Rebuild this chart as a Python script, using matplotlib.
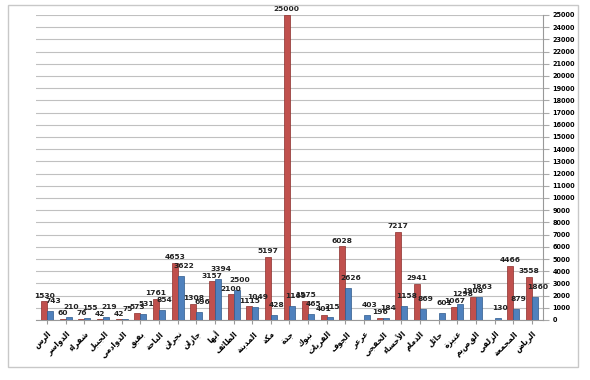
import matplotlib
matplotlib.use("Agg")
import matplotlib.pyplot as plt
import numpy as np
from matplotlib.patches import Rectangle

categories = ["الرس", "الدواسر", "شقراء", "الجبيل", "الدوادمي", "بقيق", "الباحة", "نجران",
              "جازان", "أبها", "الطائف", "المدينة", "مكة", "جدة", "تبوك", "القريات", "الجوف",
              "عرعر", "الخفجي", "الأحساء", "الدمام", "حائل", "عنيزة", "القصيم", "الزلفي",
              "المجمعة", "الرياض"]
red_values = [1530, 60, 76, 42, 42, 573, 1761, 4653, 1308, 3157, 2100, 1115, 5197, 25000,
              1575, 401, 6028, 0, 196, 7217, 2941, 0, 1067, 1908, 0, 4466, 3558]
blue_values = [743, 210, 155, 219, 75, 531, 854, 3622, 696, 3394, 2500, 1049, 428, 1169,
               465, 215, 2626, 403, 184, 1158, 869, 601, 1298, 1863, 130, 879, 1860]
yticks = list(range(0, 25001, 1000))

# --- minimal Arabic shaping (matplotlib has no complex text layout) ---
FORMS = {
    'ا': (0xFE8D, 0xFE8E), 'أ': (0xFE83, 0xFE84), 'ة': (0xFE93, 0xFE94),
    'د': (0xFEA9, 0xFEAA), 'ر': (0xFEAD, 0xFEAE), 'ز': (0xFEAF, 0xFEB0),
    'و': (0xFEED, 0xFEEE), 'ء': (0xFE80,),
    'ب': (0xFE8F, 0xFE90, 0xFE91, 0xFE92), 'ت': (0xFE95, 0xFE96, 0xFE97, 0xFE98),
    'ج': (0xFE9D, 0xFE9E, 0xFE9F, 0xFEA0), 'ح': (0xFEA1, 0xFEA2, 0xFEA3, 0xFEA4),
    'خ': (0xFEA5, 0xFEA6, 0xFEA7, 0xFEA8), 'س': (0xFEB1, 0xFEB2, 0xFEB3, 0xFEB4),
    'ش': (0xFEB5, 0xFEB6, 0xFEB7, 0xFEB8), 'ط': (0xFEC1, 0xFEC2, 0xFEC3, 0xFEC4),
    'ع': (0xFEC9, 0xFECA, 0xFECB, 0xFECC), 'ف': (0xFED1, 0xFED2, 0xFED3, 0xFED4),
    'ق': (0xFED5, 0xFED6, 0xFED7, 0xFED8), 'ك': (0xFED9, 0xFEDA, 0xFEDB, 0xFEDC),
    'ل': (0xFEDD, 0xFEDE, 0xFEDF, 0xFEE0), 'م': (0xFEE1, 0xFEE2, 0xFEE3, 0xFEE4),
    'ن': (0xFEE5, 0xFEE6, 0xFEE7, 0xFEE8), 'ه': (0xFEE9, 0xFEEA, 0xFEEB, 0xFEEC),
    'ي': (0xFEF1, 0xFEF2, 0xFEF3, 0xFEF4), 'ئ': (0xFE89, 0xFE8A, 0xFE8B, 0xFE8C),
}
LAMALEF = {'ا': (0xFEFB, 0xFEFC), 'أ': (0xFEF7, 0xFEF8)}


def shape(word):
    units = []
    i = 0
    while i < len(word):
        if word[i] == 'ل' and i + 1 < len(word) and word[i + 1] in LAMALEF:
            units.append(('LA', word[i + 1]))
            i += 2
        else:
            units.append(('C', word[i]))
            i += 1

    def joins_left(u):
        if u[0] == 'LA':
            return False
        f = FORMS.get(u[1])
        return f is not None and len(f) == 4

    def joining(u):
        return u[0] == 'LA' or (u[1] in FORMS and len(FORMS[u[1]]) > 1)

    out = []
    for k, u in enumerate(units):
        prev_j = k > 0 and joins_left(units[k - 1]) and joining(u)
        next_j = k + 1 < len(units) and joins_left(u) and joining(units[k + 1])
        if u[0] == 'LA':
            f = LAMALEF[u[1]]
            out.append(chr(f[1] if prev_j else f[0]))
            continue
        f = FORMS.get(u[1])
        if f is None:
            out.append(u[1])
        elif len(f) == 1:
            out.append(chr(f[0]))
        elif len(f) == 2:
            out.append(chr(f[1] if prev_j else f[0]))
        else:
            if prev_j and next_j:
                out.append(chr(f[3]))
            elif prev_j:
                out.append(chr(f[1]))
            elif next_j:
                out.append(chr(f[2]))
            else:
                out.append(chr(f[0]))
    return ''.join(reversed(out))


plt.rcParams['font.family'] = ['DejaVu Sans', 'Noto Sans']

fig = plt.figure(figsize=(5.9, 3.8), dpi=100)
fig.patches.append(Rectangle((8/590, 1-367/380), 570/590, 362/380, transform=fig.transFigure,
                             fill=False, edgecolor='#c8c8c8', lw=1))
ax = fig.add_axes([36/590, 1-320/380, 507/590, 305/380])

x = np.arange(len(categories))
w = 0.32
ax.bar(x - w/2, red_values, w, color='#C0504D', edgecolor='#8B2E2B', linewidth=0.5, zorder=3)
ax.bar(x + w/2, blue_values, w, color='#4F81BD', edgecolor='#2E5A8C', linewidth=0.5, zorder=3)

for i in range(len(categories)):
    if red_values[i] > 0:
        ax.annotate(str(red_values[i]), (x[i] - w/2, red_values[i]), xytext=(0, 2),
                    textcoords='offset points', ha='center', va='bottom',
                    fontsize=5.4, fontweight='bold', color='#222222', zorder=5)
    ax.annotate(str(blue_values[i]), (x[i] + w/2, blue_values[i]), xytext=(2, 5),
                textcoords='offset points', ha='center', va='bottom',
                fontsize=5.4, fontweight='bold', color='#222222', zorder=5)

ax.set_xlim(-0.6, len(categories) - 0.4)
ax.set_ylim(0, 25000)
ax.set_yticks(yticks)
ax.yaxis.tick_right()
ax.tick_params(axis='y', labelsize=4.7, length=4, color='#aaaaaa', pad=3)
for lab in ax.get_yticklabels():
    lab.set_fontweight('bold')
ax.set_xticks(x)
ax.set_xticklabels([shape(c) for c in categories], rotation=45, ha='right', rotation_mode='anchor',
                   fontsize=5.5, fontweight='bold', family=['DejaVu Sans', 'Noto Sans'])
ax.tick_params(axis='x', length=3, color='#999999')
ax.grid(axis='y', color='#c0c0c0', lw=0.8, zorder=0)
for s in ['top', 'left']:
    ax.spines[s].set_visible(False)
ax.spines['bottom'].set_color('#999999')
ax.spines['right'].set_color('#999999')

fig.savefig("out.png", dpi=100)
